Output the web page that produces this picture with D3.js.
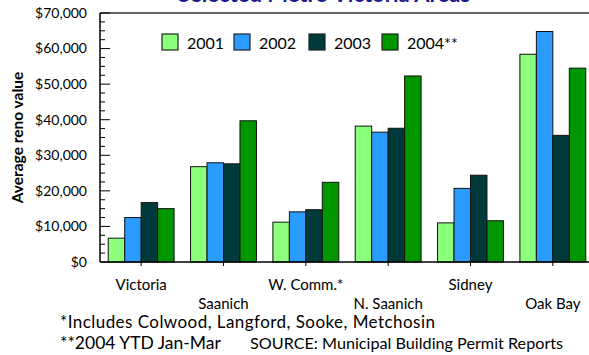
<!DOCTYPE html>
<html><head><meta charset="utf-8">
<script src="https://cdnjs.cloudflare.com/ajax/libs/d3/7.8.5/d3.min.js"></script>
<style>
html,body{margin:0;padding:0;background:#fff;}
svg{display:block;font-family:Lato,"Open Sans",sans-serif;}
</style></head>
<body>
<script>
const categories = ["Victoria","Saanich","W. Comm.*","N. Saanich","Sidney","Oak Bay"];
const seriesNames = ["2001","2002","2003","2004"];
const legendLabels = ["2001","2002","2003","2004**"];
const v2001 = [6700, 26800, 11200, 38200, 11000, 58400];
const v2002 = [12500, 27900, 14100, 36500, 20700, 64800];
const v2003 = [16700, 27600, 14700, 37600, 24400, 35600];
const v2004 = [15000, 39700, 22400, 52300, 11600, 54500];
const yTicks = [0,10000,20000,30000,40000,50000,60000,70000];
const colors = ["#8cff7c","#2a9bff","#003a3a","#009600"];
const title = "Selected Metro Victoria Areas";
const yTitle = "Average reno value";
const note1 = "*Includes Colwood, Langford, Sooke, Metchosin";
const note2 = "**2004 YTD Jan-Mar";
const note3 = "SOURCE: Municipal Building Permit Reports";

const series = [v2001, v2002, v2003, v2004];
const W = 589, H = 355;
const svg = d3.select("body").append("svg").attr("width", W).attr("height", H);

const x0 = d3.scaleBand().domain(categories).range([100, 594]).paddingInner(0.2).paddingOuter(0.1);
const x1 = d3.scaleBand().domain(seriesNames).range([0, x0.bandwidth()]);
const y = d3.scaleLinear().domain([0, 70000]).range([262, 13]);

// title (clipped at top, as in the reference)
svg.append("text").attr("x", 324).attr("y", 2).attr("text-anchor","middle")
  .attr("font-size", 22).attr("font-weight","bold").attr("fill","#1a1a8c").text(title);

// frame top line
svg.append("line").attr("x1",100).attr("x2",W).attr("y1",y(70000)).attr("y2",y(70000))
  .attr("stroke","#333").attr("stroke-width",1.5);

// y axis ticks (major + minor, inward)
const minor = d3.range(0, 70001, 2500);
svg.append("g").selectAll("line").data(minor).join("line")
  .attr("x1",100).attr("x2", d => d % 10000 === 0 ? 110 : 105)
  .attr("y1", d => y(d)).attr("y2", d => y(d)).attr("stroke","#000").attr("stroke-width",1);

// y labels
svg.append("g").selectAll("text").data(yTicks).join("text")
  .attr("x", 87).attr("y", d => y(d)).attr("dy","0.35em").attr("text-anchor","end")
  .attr("font-size", 14).attr("fill","#000").text(d => "$" + d3.format(",")(d));

// y title
svg.append("text").attr("transform", `translate(23,${(y(0)+y(70000))/2}) rotate(-90)`)
  .attr("text-anchor","middle").attr("font-size",15.5).attr("font-weight","bold").text(yTitle);

// x ticks
svg.append("g").selectAll("line").data(categories).join("line")
  .attr("x1", d => x0(d) + x0.bandwidth()/2).attr("x2", d => x0(d) + x0.bandwidth()/2)
  .attr("y1", 257).attr("y2", 266).attr("stroke","#000");

// bars
const g = svg.append("g");
categories.forEach((c, i) => {
  series.forEach((s, j) => {
    g.append("rect")
      .attr("x", x0(c) + x1(seriesNames[j]))
      .attr("y", y(s[i]))
      .attr("width", x1.bandwidth())
      .attr("height", y(0) - y(s[i]))
      .attr("fill", colors[j]).attr("stroke","#111").attr("stroke-width",1);
  });
});

// axes lines
svg.append("line").attr("x1",100).attr("x2",W).attr("y1",y(0)).attr("y2",y(0)).attr("stroke","#000").attr("stroke-width",1.5);
svg.append("line").attr("x1",100).attr("x2",100).attr("y1",y(0)).attr("y2",y(70000)).attr("stroke","#000").attr("stroke-width",1.5);

// x labels staggered
svg.append("g").selectAll("text").data(categories).join("text")
  .attr("x", d => x0(d) + x0.bandwidth()/2)
  .attr("y", (d,i) => i % 2 === 0 ? 290 : 309)
  .attr("text-anchor","middle").attr("font-size",15).text(d => d);

// legend
const lx = [162, 234, 309, 382];
const lg = svg.append("g");
legendLabels.forEach((l, j) => {
  lg.append("rect").attr("x", lx[j]).attr("y", 34).attr("width", 16).attr("height", 16)
    .attr("fill", colors[j]).attr("stroke","#222").attr("stroke-width",1.2);
  lg.append("text").attr("x", lx[j] + 25).attr("y", 49).attr("font-size", 16).text(l);
});

// notes
svg.append("text").attr("x",60).attr("y",328).attr("font-size",17).attr("letter-spacing",0.45).text(note1);
svg.append("text").attr("x",60).attr("y",349).attr("font-size",17.5).text(note2);
svg.append("text").attr("x",250).attr("y",349).attr("font-size",16.2).text(note3);
</script>
</body></html>
